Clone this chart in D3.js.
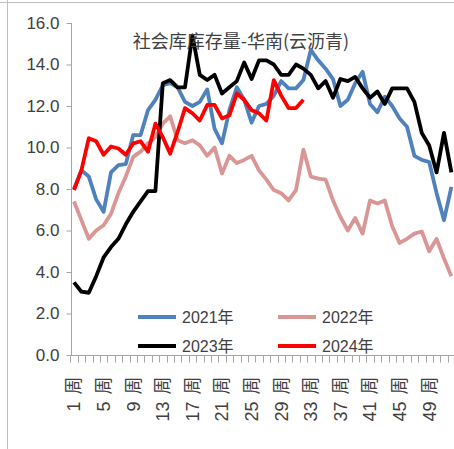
<!DOCTYPE html>
<html><head><meta charset="utf-8">
<script src="https://cdn.jsdelivr.net/npm/d3@7"></script>
<style>html,body{margin:0;padding:0;background:#fff;}svg{display:block;}</style>
</head><body>
<script>
const weeks = d3.range(1, 53);
const tickWeeks = [1,5,9,13,17,21,25,29,33,37,41,45,49];
const yTicks = [0,2,4,6,8,10,12,14,16];
const title = "社会库库存量-华南(云沥青)";
const seriesNames = ["2021年","2022年","2023年","2024年"];
const s2021 = [8.0,8.9,8.6,7.5,6.9,8.8,9.15,9.2,10.6,10.6,11.8,12.3,13.0,13.1,12.9,12.2,12.0,12.2,12.8,10.9,10.2,11.8,12.9,12.3,11.2,12.0,12.1,12.5,13.2,12.85,12.85,13.25,14.7,14.2,13.8,13.3,12.0,12.3,13.1,13.65,12.1,11.7,12.45,12.0,11.4,11.0,9.6,9.4,9.3,7.8,6.5,8.1];
const s2022 = [7.4,6.5,5.6,6.0,6.25,6.8,7.8,8.6,9.55,9.8,10.2,10.5,11.15,11.5,10.35,10.2,10.35,10.1,9.6,10.0,8.75,9.6,9.25,9.4,9.6,8.9,8.45,7.95,7.8,7.45,7.95,9.9,8.6,8.5,8.45,7.45,6.65,6.0,6.6,5.85,7.45,7.3,7.45,6.2,5.4,5.6,5.85,5.95,5.0,5.6,4.65,3.8];
const s2023 = [3.5,3.05,3.0,3.8,4.7,5.2,5.6,6.3,6.9,7.4,7.9,7.9,13.1,13.25,12.9,12.9,15.4,13.5,13.25,13.5,12.6,12.9,13.2,14.1,13.3,14.2,14.2,14.0,13.5,13.5,14.0,13.8,13.5,12.85,13.2,12.4,13.3,13.2,13.4,12.85,12.4,12.7,12.1,12.85,12.85,12.85,12.2,10.7,10.1,8.8,10.7,8.8];
const s2024 = [7.95,8.9,10.45,10.3,9.65,10.05,9.95,9.65,10.2,10.3,9.8,11.15,10.5,9.7,10.75,11.9,11.65,11.3,12.05,12.05,11.4,11.55,12.6,12.3,11.8,11.65,11.3,13.25,12.5,11.9,11.9,12.3];
const colors = ["#4f81bd","#d99694","#000000","#ff0000"];

const W = 454, H = 449;
const svg = d3.select("body").append("svg").attr("width", W).attr("height", H);
const font = "'Liberation Sans','Noto Sans CJK SC',sans-serif";

// frame
svg.append("line").attr("x1",7.5).attr("x2",7.5).attr("y1",0).attr("y2",H).attr("stroke","#c0c0c0");
svg.append("line").attr("x1",0).attr("x2",W).attr("y1",2.5).attr("y2",2.5).attr("stroke","#c0c0c0");

const x = d3.scaleBand().domain(weeks).range([70.3, 455.1]);
const xc = w => x(w) + x.bandwidth()/2;
const y = d3.scaleLinear().domain([0,16]).range([355, 23]);

// y axis
const yAxis = d3.axisLeft(y).tickValues(yTicks).tickSize(5).tickPadding(7).tickFormat(d3.format(".1f"));
const ya = svg.append("g").attr("transform","translate(71.5,0)").call(yAxis);
ya.select(".domain").attr("stroke","#a6a6a6").attr("d","M0,"+y(16)+"V"+y(0));
ya.selectAll(".tick line").attr("stroke","#a6a6a6");
ya.selectAll(".tick text").attr("font-family",font).attr("font-size",17).attr("fill","#404040");

// x axis
const xa = svg.append("g").attr("transform","translate(0,355.5)");
xa.append("line").attr("x1",70.3).attr("x2",W).attr("y1",0).attr("y2",0).attr("stroke","#a6a6a6");
const bounds = weeks.map(w => x(w)).concat([x(52)+x.bandwidth()]);
xa.selectAll("line.tk").data(bounds).enter().append("line").attr("class","tk")
  .attr("x1",d=>Math.round(d)+0.5).attr("x2",d=>Math.round(d)+0.5).attr("y1",0).attr("y2",7).attr("stroke","#a6a6a6");
const xl = xa.selectAll("text").data(tickWeeks).enter().append("text")
  .attr("transform", d => "translate(" + xc(d) + ",21) rotate(-90)")
  .attr("text-anchor","end").attr("dy","0.36em")
  .attr("font-family",font).attr("font-size",18).attr("fill","#404040");
xl.append("tspan").text(d => String(d));
xl.append("tspan").attr("dx",7).text("周");

// lines
const line = d3.line().defined(d => d != null).x((d,i) => xc(weeks[i])).y(d => y(d));
[s2021, s2022, s2023, s2024].forEach((s, i) => {
  svg.append("path").datum(s).attr("d", line).attr("fill","none")
    .attr("stroke", colors[i]).attr("stroke-width", 3.8).attr("stroke-linejoin","round");
});

// title
svg.append("text").attr("x",241).attr("y",48).attr("text-anchor","middle")
  .attr("font-family","'Noto Sans CJK SC',sans-serif").attr("font-size",18).attr("fill","#404040").text(title);

// legend
const legPos = [[138,317],[278,317],[138,346],[278,346]];
seriesNames.forEach((n,i) => {
  const [lx, ly] = legPos[i];
  svg.append("line").attr("x1",lx).attr("x2",lx+38).attr("y1",ly).attr("y2",ly)
    .attr("stroke",colors[i]).attr("stroke-width",4);
  svg.append("text").attr("x",lx+44).attr("y",ly).attr("dy","0.35em")
    .attr("font-family",font).attr("font-size",16).attr("fill","#404040").text(n);
});
</script>
</body></html>
